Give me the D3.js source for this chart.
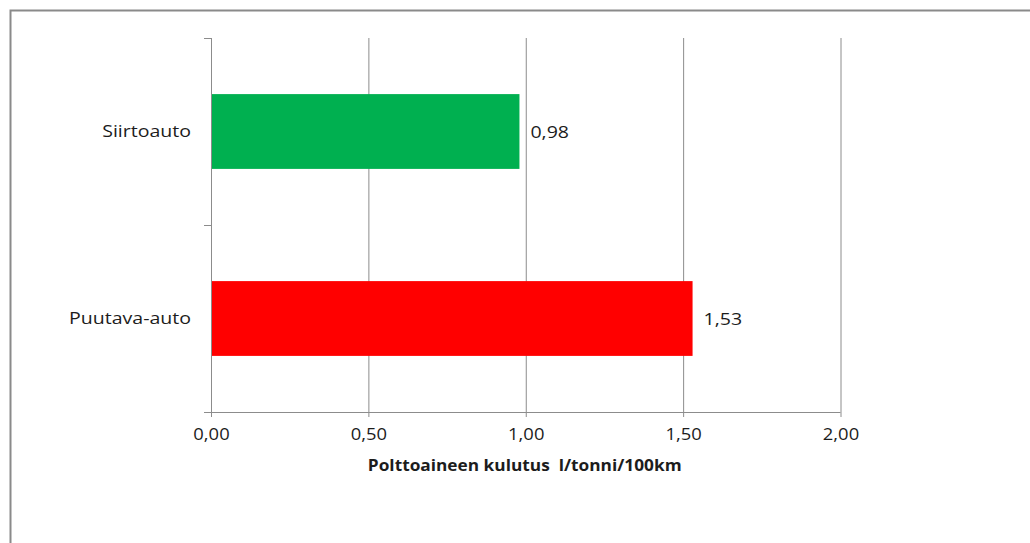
<!DOCTYPE html>
<html>
<head>
<meta charset="utf-8">
<script src="https://cdn.jsdelivr.net/npm/d3@7/dist/d3.min.js"></script>
<style>
  html, body { margin: 0; padding: 0; background: #ffffff; }
  svg { display: block; }
  text { font-family: "Open Sans", "DejaVu Sans", sans-serif; fill: #1c1c1c; }
</style>
</head>
<body>
<svg id="chart" width="1030" height="543"></svg>
<script>
// Fuel consumption per vehicle type (litres per tonne per 100 km)
const categories = ["Siirtoauto", "Puutava-auto"];
const values = [0.98, 1.53];
const valueLabels = ["0,98", "1,53"];
const barColors = ["#00B050", "#FF0000"];
const tickValues = [0, 0.5, 1, 1.5, 2];
const tickLabels = ["0,00", "0,50", "1,00", "1,50", "2,00"];
const axisTitle = "Polttoaineen kulutus  l/tonni/100km";

const svg = d3.select("#chart");
const W = 1030, H = 543;
const plot = { left: 211, right: 840.5, top: 38, bottom: 412 };
const gridColor = "#8c8c8c";
const stretch = 1.15;

// outer frame of the chart object
svg.append("rect")
  .attr("x", 10.5).attr("y", 10.5)
  .attr("width", W + 20).attr("height", H + 20)
  .attr("fill", "#ffffff")
  .attr("stroke", "#8a8a8a")
  .attr("stroke-width", 2);

const x = d3.scaleLinear().domain([0, 2]).range([plot.left, plot.right]);
const y = d3.scaleBand().domain(categories)
  .range([plot.top, plot.bottom])
  .paddingInner(0.6).paddingOuter(0.3);

// vertical gridlines
const grid = svg.append("g")
  .attr("transform", `translate(0,${plot.bottom})`)
  .call(d3.axisBottom(x).tickValues(tickValues.slice(1))
    .tickSize(-(plot.bottom - plot.top)).tickFormat(""));
grid.select(".domain").remove();
grid.selectAll("line").attr("stroke", gridColor).attr("stroke-width", 1);

// bars
svg.append("g").selectAll("rect")
  .data(categories)
  .join("rect")
  .attr("x", x(0))
  .attr("y", d => y(d))
  .attr("width", (d, i) => x(values[i]) - x(0))
  .attr("height", y.bandwidth())
  .attr("fill", (d, i) => barColors[i]);

// value labels
svg.append("g").selectAll("text")
  .data(categories)
  .join("text")
  .attr("transform", (d, i) =>
    `translate(${x(values[i]) + 11},${y(d) + y.bandwidth() / 2}) scale(${stretch},1)`)
  .attr("dy", "0.36em")
  .attr("font-size", 17)
  .text((d, i) => valueLabels[i]);

// x axis
const xAxis = svg.append("g")
  .attr("transform", `translate(0,${plot.bottom})`)
  .call(d3.axisBottom(x).tickValues(tickValues)
    .tickSize(5).tickPadding(12)
    .tickFormat((d, i) => tickLabels[i]));
xAxis.select(".domain").attr("d", `M${plot.left - 7},0.5H${plot.right}`)
  .attr("stroke", gridColor);
xAxis.selectAll("line").attr("stroke", gridColor);
xAxis.selectAll("text")
  .attr("font-size", 16)
  .attr("fill", "#1c1c1c")
  .attr("font-family", "Open Sans, DejaVu Sans, sans-serif")
  .attr("transform", `scale(${stretch},1)`);

// y axis: band boundary ticks
const yEdge = d3.scaleLinear().domain([0, categories.length]).range([plot.top, plot.bottom]);
const yTicks = svg.append("g")
  .attr("transform", `translate(${plot.left},0)`)
  .call(d3.axisLeft(yEdge).ticks(categories.length).tickSize(7).tickFormat(""));
yTicks.selectAll("path,line").attr("stroke", gridColor);
yTicks.select(".domain").attr("d", `M0.5,${plot.top}V${plot.bottom}`);

// y axis: category labels
const yLabels = svg.append("g")
  .attr("transform", `translate(${plot.left},0)`)
  .call(d3.axisLeft(y).tickSize(0).tickPadding(0));
yLabels.select(".domain").remove();
yLabels.selectAll("text")
  .attr("font-size", 17)
  .attr("fill", "#1c1c1c")
  .attr("font-family", "Open Sans, DejaVu Sans, sans-serif")
  .attr("x", -20 / stretch)
  .attr("transform", `scale(${stretch},1)`);

// axis title (keeps the double space before the unit)
svg.append("text")
  .attr("transform", `translate(${(x(0) + x(2)) / 2 - 1},471) scale(1.08,1)`)
  .attr("text-anchor", "middle")
  .attr("font-size", 16)
  .attr("font-weight", "bold")
  .style("white-space", "pre")
  .text(axisTitle);
</script>
</body>
</html>
